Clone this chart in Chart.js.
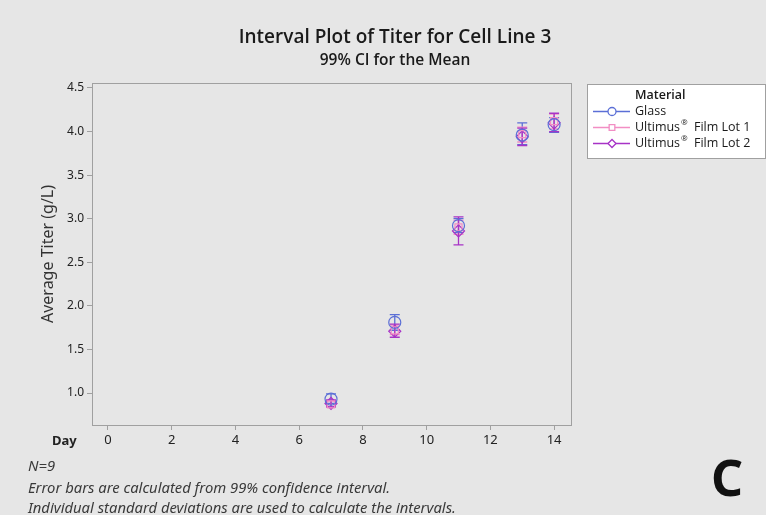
<!DOCTYPE html>
<html>
<head>
<meta charset="utf-8">
<script src="https://cdn.jsdelivr.net/npm/chart.js@4"></script>
<style>
  body { margin: 0; background: #e6e6e6; }
  #wrap { position: relative; width: 766px; height: 515px; background: #e6e6e6; font-family: 'Noto Sans', sans-serif; }
  canvas { position: absolute; left: 0; top: 0; }
  .t { position: absolute; color: #222; white-space: nowrap; }
  #title { left: 0; width: 790px; text-align: center; top: 23px; font-size: 19px; font-family: 'Open Sans', sans-serif; font-weight: 600; color: #1a1a1a; }
  #sub { left: 0; width: 790px; text-align: center; top: 48px; font-size: 15.5px; font-family: 'Open Sans', sans-serif; font-weight: 600; color: #1a1a1a; }
  #day { left: 52px; top: 431px; font-size: 13px; font-weight: bold; }
  .foot { left: 28px; font-size: 14.8px; font-style: italic; color: #3a3a3a; }
  #c { left: 711px; top: 443px; font-size: 50px; font-weight: bold; color: #111; }
</style>
</head>
<body>
<div id="wrap">
  <canvas id="chart" width="766" height="515"></canvas>
  <div class="t" id="title">Interval Plot of Titer for Cell Line 3</div>
  <div class="t" id="sub">99% CI for the Mean</div>
  <div class="t" id="day">Day</div>
  <div class="t foot" style="top:455px">N=9</div>
  <div class="t foot" style="top:477px">Error bars are calculated from 99% confidence interval.</div>
  <div class="t foot" style="top:497px">Individual standard deviations are used to calculate the intervals.</div>
  <div class="t" id="c">C</div>
</div>
<script>
// days and tick labels
var days = [7, 9, 11, 13, 14]
var xTicks = [0, 2, 4, 6, 8, 10, 12, 14]
var yTicks = [1.0, 1.5, 2.0, 2.5, 3.0, 3.5, 4.0, 4.5]

// Glass
var glassMean = [0.93, 1.81, 2.92, 3.96, 4.08]
var glassLo = [0.88, 1.72, 2.84, 3.85, 3.99]
var glassHi = [0.99, 1.90, 3.00, 4.10, 4.16]
// Ultimus Film Lot 1
var lot1Mean = [0.87, 1.72, 2.90, 3.97, 4.12]
var lot1Lo = [0.84, 1.67, 2.82, 3.88, 4.03]
var lot1Hi = [0.91, 1.78, 2.98, 4.05, 4.20]
// Ultimus Film Lot 2
var lot2Mean = [0.88, 1.71, 2.86, 3.94, 4.10]
var lot2Lo = [0.84, 1.64, 2.70, 3.84, 4.00]
var lot2Hi = [0.92, 1.79, 3.02, 4.04, 4.21]

var legendTitle = 'Material'
var legendNames = [['Glass'], ['Ultimus', ' Film Lot 1'], ['Ultimus', ' Film Lot 2']]

function pts (means, lo, hi) {
  return days.map(function (d, i) { return { x: d, y: means[i], lo: lo[i], hi: hi[i] } })
}

var colors = ['#5b6fd6', '#f28ec4', '#a733c6']
var styles = ['circle', 'rect', 'rectRot']
var radii = [6, 5, 6]

// error bars, drawn through the scales
var errorBars = {
  id: 'errorBars',
  beforeDatasetsDraw: function (chart) {
    var ctx = chart.ctx
    var ys = chart.scales.y
    var xs = chart.scales.x
    chart.data.datasets.forEach(function (ds) {
      ctx.save()
      ctx.strokeStyle = ds.borderColor
      ctx.lineWidth = 1.3
      ds.data.forEach(function (p) {
        var x = xs.getPixelForValue(p.x)
        var y1 = ys.getPixelForValue(p.lo)
        var y2 = ys.getPixelForValue(p.hi)
        ctx.beginPath()
        ctx.moveTo(x, y1); ctx.lineTo(x, y2)
        ctx.moveTo(x - 5, y1); ctx.lineTo(x + 5, y1)
        ctx.moveTo(x - 5, y2); ctx.lineTo(x + 5, y2)
        ctx.stroke()
      })
      ctx.restore()
    })
  },
  afterDraw: function (chart) {
    var ctx = chart.ctx
    var a = chart.chartArea
    ctx.save()
    ctx.strokeStyle = '#a0a0a0'
    ctx.lineWidth = 1
    ctx.strokeRect(a.left + 0.5, a.top + 0.5, a.right - a.left, a.bottom - a.top)

    // legend box
    var lx = 587, ly = 84, lw = 178, lh = 74
    ctx.fillStyle = '#fff'
    ctx.fillRect(lx, ly, lw, lh)
    ctx.strokeRect(lx + 0.5, ly + 0.5, lw, lh)
    ctx.fillStyle = '#1a1a1a'
    ctx.font = '600 12.5px "Open Sans"'
    ctx.textBaseline = 'middle'
    ctx.fillText(legendTitle, 635, 95)
    chart.data.datasets.forEach(function (ds, i) {
      var y = 111 + i * 16
      ctx.strokeStyle = ds.borderColor
      ctx.lineWidth = 1.3
      ctx.beginPath(); ctx.moveTo(593, y + 0.5); ctx.lineTo(630, y + 0.5); ctx.stroke()
      ctx.fillStyle = '#fff'
      Chart.helpers.drawPoint(ctx, { pointStyle: ds.pointStyle, radius: 4, borderWidth: 1 }, 612, y + 0.5)
      var parts = legendNames[i]
      ctx.fillStyle = '#1a1a1a'
      ctx.font = '500 12.5px "Open Sans"'
      var x = 635
      ctx.fillText(parts[0], x, y)
      x += ctx.measureText(parts[0]).width
      if (parts.length > 1) {
        ctx.font = '8px "Open Sans"'
        ctx.fillText('\u00ae', x + 1, y - 4)
        x += ctx.measureText('\u00ae').width + 4
        ctx.font = '500 12.5px "Open Sans"'
        ctx.fillText(parts[1], x, y)
      }
    })
    ctx.restore()
  }
}

var names = ['Glass', 'Ultimus Film Lot 1', 'Ultimus Film Lot 2']
var sets = [pts(glassMean, glassLo, glassHi), pts(lot1Mean, lot1Lo, lot1Hi), pts(lot2Mean, lot2Lo, lot2Hi)]

new Chart(document.getElementById('chart').getContext('2d'), {
  type: 'scatter',
  data: {
    datasets: sets.map(function (d, i) {
      return {
        label: names[i],
        data: d,
        borderColor: colors[i],
        backgroundColor: 'rgba(0,0,0,0)',
        pointStyle: styles[i],
        pointRadius: radii[i],
        pointBorderWidth: 1.2,
        showLine: false
      }
    })
  },
  options: {
    responsive: false,
    animation: false,
    layout: { padding: { left: 0, top: 83, right: 195, bottom: 0 } },
    plugins: { legend: { display: false }, tooltip: { enabled: false } },
    scales: {
      x: {
        type: 'linear',
        min: -0.5,
        max: 14.53,
        afterFit: function (s) { s.height = 90 },
        afterBuildTicks: function (s) { s.ticks = xTicks.map(function (v) { return { value: v } }) },
        grid: { drawOnChartArea: false, drawTicks: true, tickLength: 5, color: '#a0a0a0' },
        border: { display: false },
        ticks: { padding: 2, color: '#222', font: { family: 'Noto Sans', size: 13 }, maxRotation: 0 }
      },
      y: {
        min: 0.633,
        max: 4.557,
        afterFit: function (s) { s.width = 92 },
        afterBuildTicks: function (s) { s.ticks = yTicks.map(function (v) { return { value: v } }) },
        grid: { drawOnChartArea: false, drawTicks: true, tickLength: 5, color: '#a0a0a0' },
        border: { display: false },
        ticks: {
          padding: 3, color: '#222', font: { family: 'Noto Sans', size: 12 },
          callback: function (v) { return v.toFixed(1) }
        },
        title: {
          display: true,
          text: 'Average Titer (g/L)',
          color: '#333',
          font: { family: 'Noto Sans', size: 16 },
          padding: { top: 39 }
        }
      }
    }
  },
  plugins: [errorBars]
})
</script>
</body>
</html>
